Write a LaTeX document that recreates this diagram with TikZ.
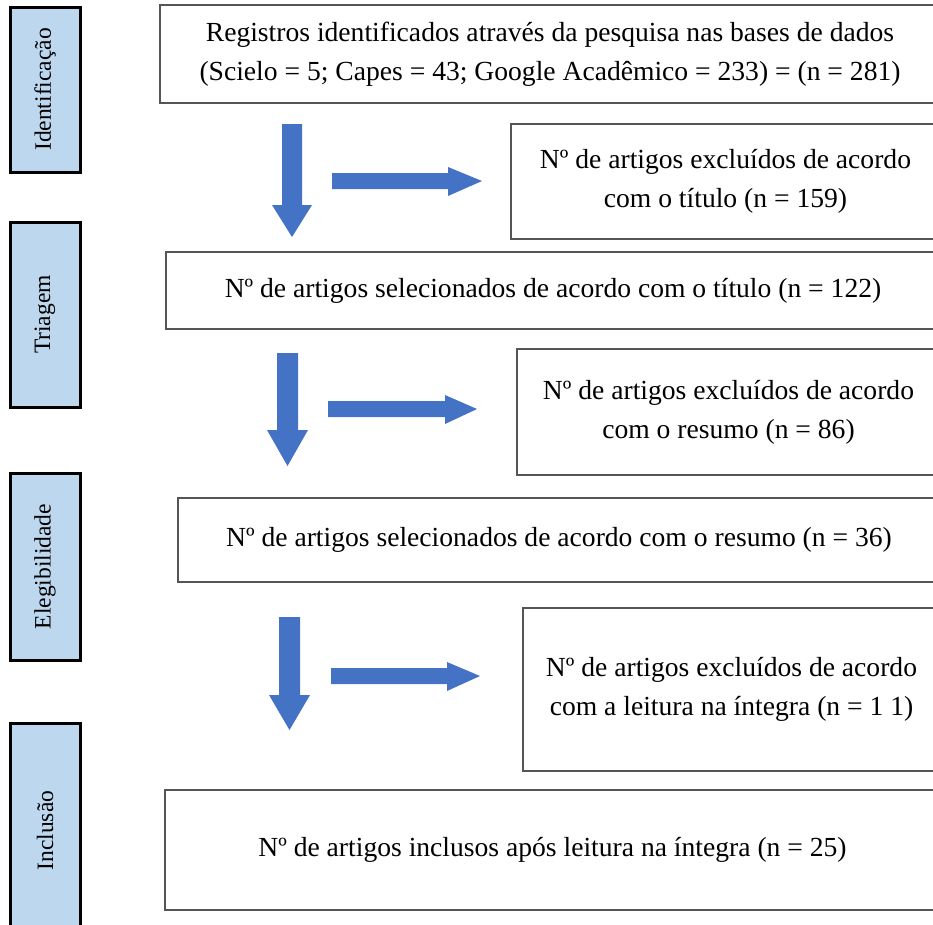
\documentclass[tikz,border=0pt]{standalone}
\usepackage{fontspec}
\setmainfont{Liberation Serif}

\definecolor{phasefill}{RGB}{189,215,238}
\definecolor{arrowblue}{RGB}{68,114,196}
\definecolor{boxline}{RGB}{85,85,85}

\tikzset{
    phase/.style={draw=black, line width=3pt, fill=phasefill, rotate=90,
        inner sep=0pt, font=\fontsize{23.5}{28}\selectfont},
    stagebox/.style={draw=boxline, line width=1.6pt, align=center,
        inner sep=0pt, font=\fontsize{27.6}{39}\selectfont},
    blockarrow/.style={fill=arrowblue}
}

\begin{document}
\begin{tikzpicture}[x=1pt, y=-1pt]
    \useasboundingbox (0,0) rectangle (933,924);
    \clip (0,0) rectangle (933,924);

    % Phases
    \node[phase, minimum width=165, minimum height=70] (ident) at (45,89.5) {Identificação};
    \node[phase, minimum width=185, minimum height=70] (triag) at (45,314.5) {Triagem};
    \node[phase, minimum width=187, minimum height=70] (elegi) at (45,566.5) {Elegibilidade};
    \node[phase, minimum width=215, minimum height=70] (inclu) at (45,830.5) {Inclusão};

    % Boxes
    \node[stagebox, minimum width=780, minimum height=98] (reg) at (550,54)
        {Registros identificados através da pesquisa nas bases de dados\\
         (Scielo = 5; Capes = 43; Google Acadêmico = 233) = (n = 281)};

    \node[stagebox, minimum width=429, minimum height=115] (exctit) at (725.5,181.5)
        {Nº de artigos excluídos de acordo\\ com o título (n = 159)};

    \node[stagebox, minimum width=774, minimum height=77] (seltit) at (553,290.5)
        {Nº de artigos selecionados de acordo com o título (n = 122)};

    \node[stagebox, minimum width=423, minimum height=126] (excres) at (728.5,412)
        {Nº de artigos excluídos de acordo\\ com o resumo (n = 86)};

    \node[stagebox, minimum width=762, minimum height=84] (selres) at (559,540)
        {Nº de artigos selecionados de acordo com o resumo (n = 36)};

    \node[stagebox, minimum width=417, minimum height=163] (exclei) at (731.5,689.5)
        {Nº de artigos excluídos de acordo\\ com a leitura na íntegra (n = 1 1)};

    \node[stagebox, minimum width=775, minimum height=120] (incl) at (552.5,850)
        {Nº de artigos inclusos após leitura na íntegra (n = 25)};

    % Arrows
    \fill[blockarrow] (282,124) -- (302,124) -- (302,205) -- (312,205) -- (292,237)
        -- (272,205) -- (282,205) -- cycle;
    \fill[blockarrow] (332,173) -- (448,173) -- (448,167) -- (482,181) -- (448,196)
        -- (448,189) -- (332,189) -- cycle;

    \fill[blockarrow] (277,353) -- (298,353) -- (298,430) -- (308,430) -- (287.5,466)
        -- (267,430) -- (277,430) -- cycle;
    \fill[blockarrow] (328,401) -- (445,401) -- (445,395) -- (477,409) -- (445,424)
        -- (445,417) -- (328,417) -- cycle;

    \fill[blockarrow] (279,617) -- (300,617) -- (300,695) -- (310,695) -- (289.5,730)
        -- (269,695) -- (279,695) -- cycle;
    \fill[blockarrow] (331,668) -- (447,668) -- (447,662) -- (480,676) -- (447,691)
        -- (447,684) -- (331,684) -- cycle;
\end{tikzpicture}
\end{document}
